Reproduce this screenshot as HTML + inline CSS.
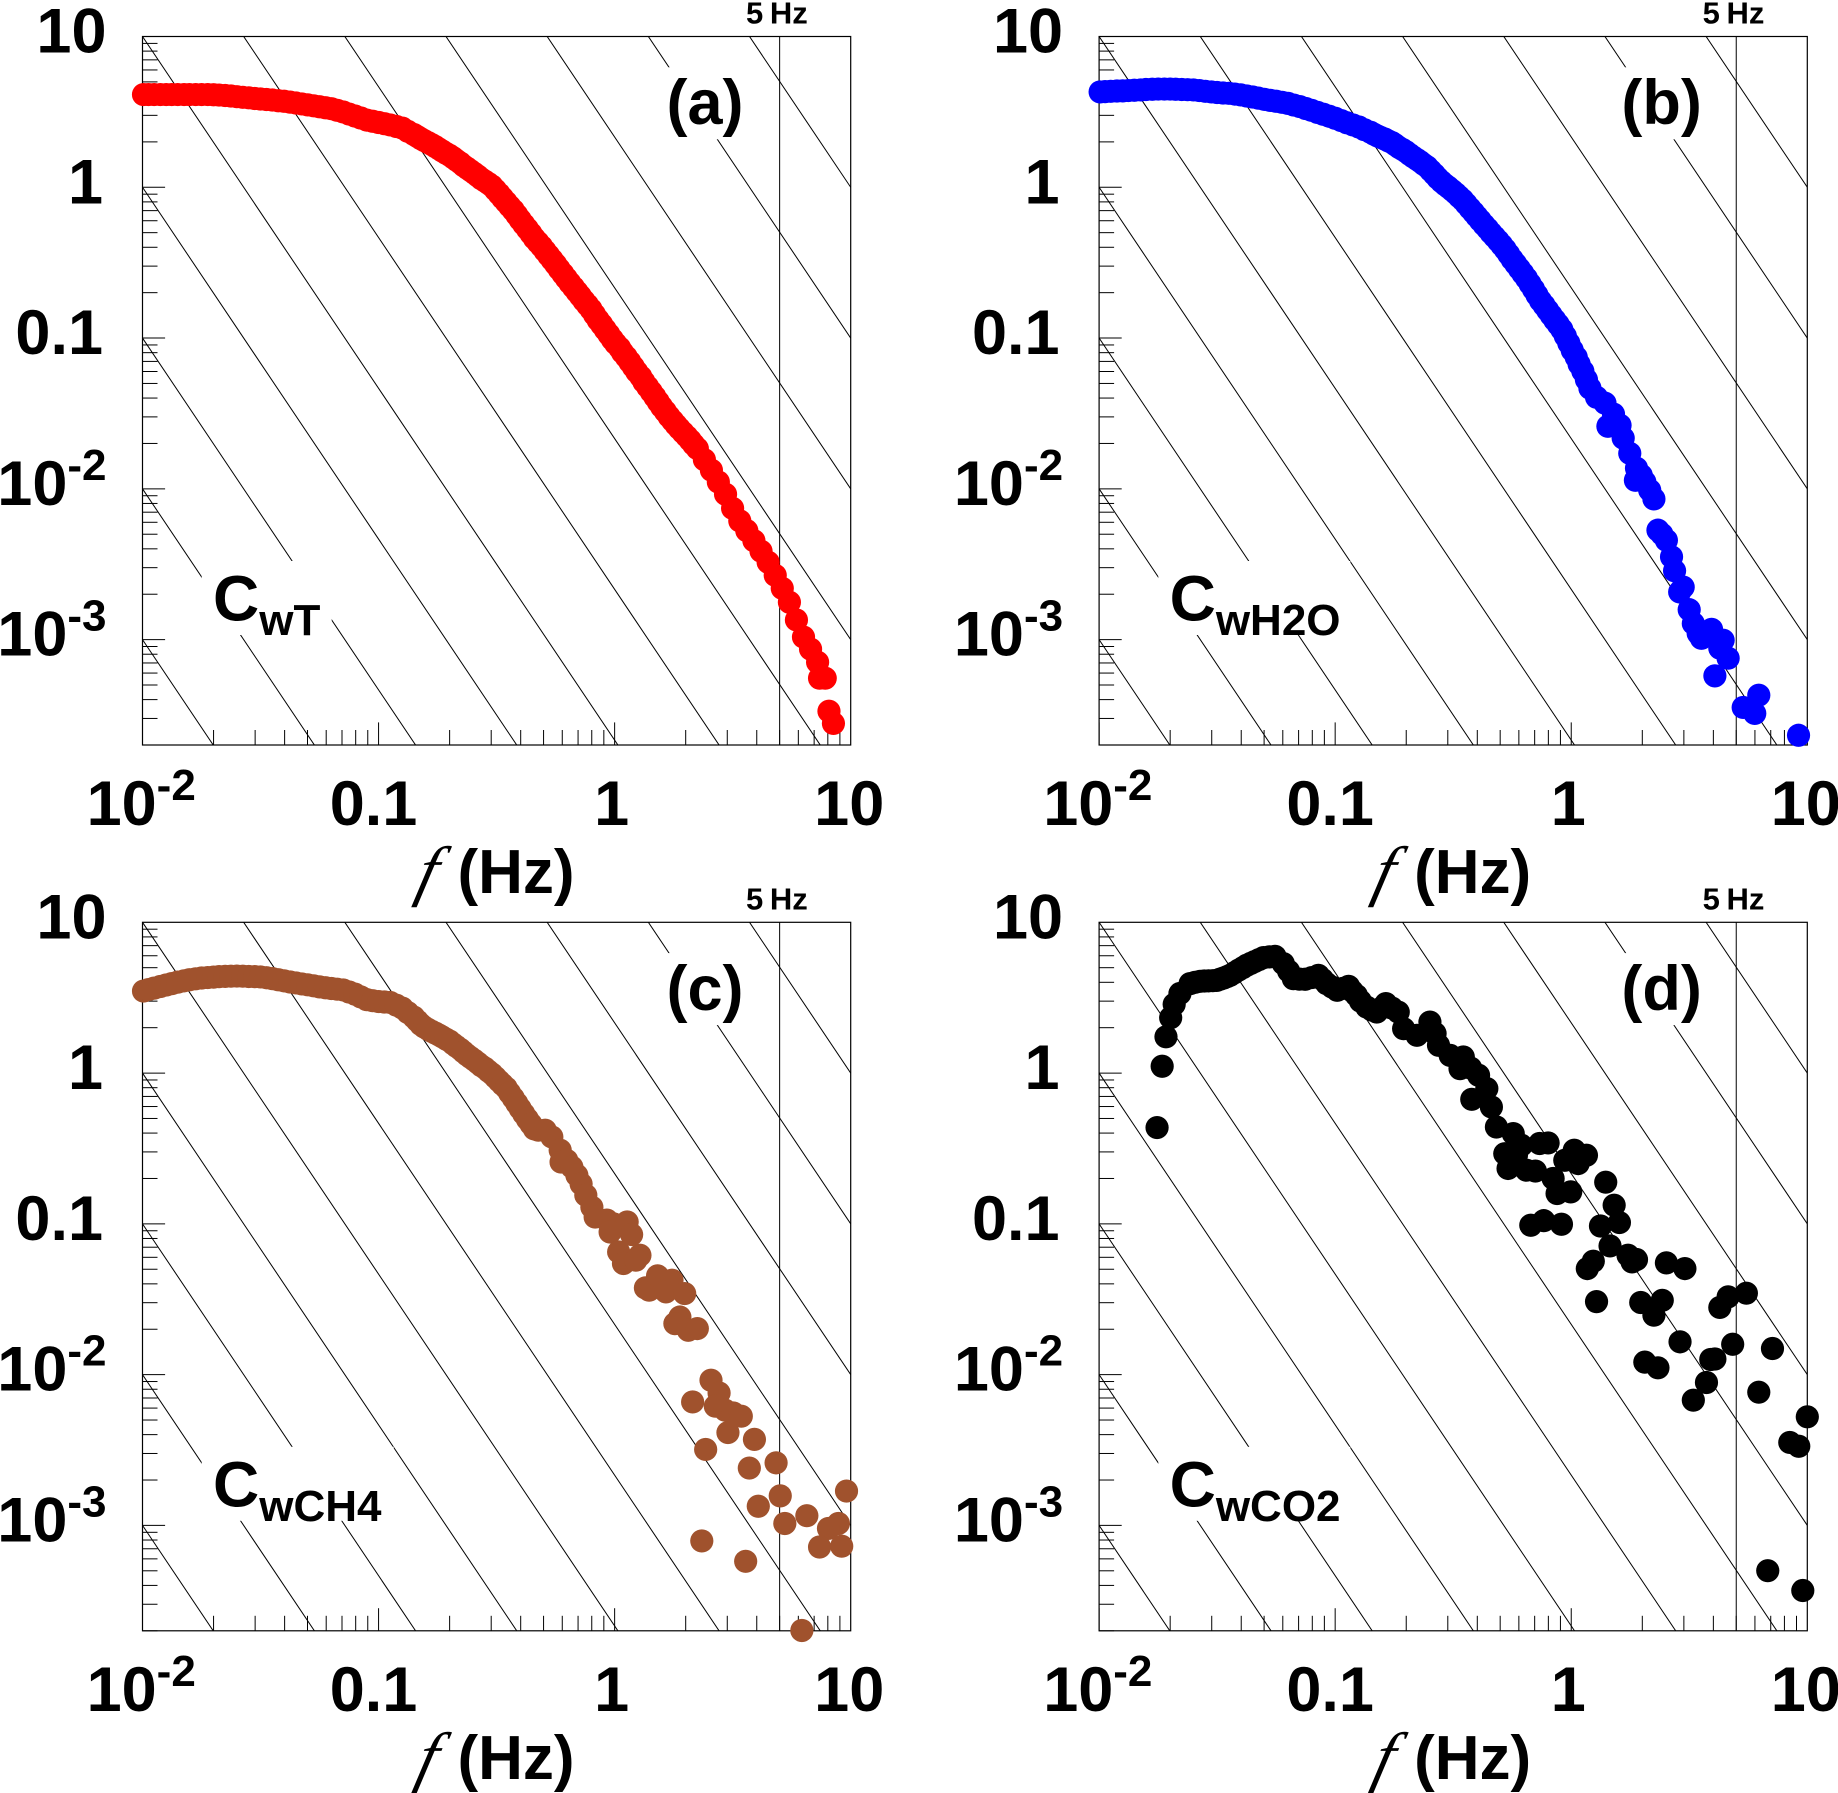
<!DOCTYPE html>
<html lang="en">
<head>
<meta charset="utf-8">
<title>Cospectra of w with T, H2O, CH4 and CO2</title>
<style>
html,body{margin:0;padding:0;background:#fff;width:1838px;height:1793px;overflow:hidden;}
svg{display:block;overflow:hidden;}
text{font-family:"Liberation Sans",Arial,sans-serif;font-weight:bold;fill:#000;}
</style>
</head>
<body>
<svg id="chart" xmlns="http://www.w3.org/2000/svg" width="1838" height="1793" viewBox="0 0 1838 1793"></svg>
<script>
const panelAFreq = [0.0101,0.0106,0.0112,0.0119,0.0126,0.0133,0.0141,0.0150,0.0158,0.0168,0.0178,0.0189,0.0200,0.0211,0.0224,0.0237,0.0251,0.0266,0.0282,0.0299,0.0316,0.0335,0.0355,0.0376,0.0398,0.0422,0.0447,0.0473,0.0501,0.0531,0.0562,0.0596,0.0631,0.0668,0.0708,0.0750,0.0794,0.0841,0.0891,0.0944,0.100,0.106,0.112,0.119,0.126,0.133,0.141,0.146,0.151,0.156,0.162,0.168,0.174,0.180,0.186,0.193,0.200,0.207,0.214,0.222,0.229,0.237,0.245,0.254,0.263,0.272,0.282,0.292,0.302,0.313,0.324,0.335,0.347,0.359,0.372,0.385,0.398,0.412,0.427,0.442,0.457,0.473,0.490,0.507,0.525,0.543,0.562,0.582,0.603,0.624,0.646,0.669,0.692,0.716,0.741,0.767,0.794,0.822,0.851,0.881,0.912,0.944,0.977,1.01,1.05,1.08,1.12,1.16,1.20,1.24,1.29,1.33,1.38,1.43,1.48,1.53,1.58,1.64,1.70,1.76,1.82,1.88,1.95,2.02,2.09,2.16,2.24,2.40,2.57,2.75,2.95,3.16,3.39,3.63,3.89,4.17,4.47,4.79,5.13,5.50,5.89,6.31,6.76,7.24,7.38,7.80,8.09,8.45];
const panelACos = [4.12,4.12,4.12,4.12,4.12,4.12,4.12,4.12,4.12,4.12,4.12,4.12,4.11,4.09,4.06,4.03,3.99,3.95,3.92,3.88,3.85,3.82,3.79,3.75,3.72,3.67,3.62,3.57,3.52,3.47,3.42,3.37,3.32,3.24,3.16,3.06,2.97,2.88,2.79,2.74,2.69,2.64,2.59,2.53,2.47,2.35,2.24,2.17,2.10,2.04,1.98,1.92,1.86,1.80,1.74,1.68,1.63,1.57,1.51,1.45,1.39,1.34,1.29,1.24,1.19,1.14,1.10,1.06,1.02,0.960,0.904,0.849,0.798,0.749,0.704,0.655,0.610,0.568,0.529,0.493,0.459,0.432,0.406,0.379,0.354,0.331,0.309,0.287,0.267,0.249,0.232,0.217,0.203,0.190,0.177,0.166,0.155,0.143,0.132,0.123,0.114,0.106,0.0982,0.0919,0.0860,0.0803,0.0749,0.0695,0.0645,0.0598,0.0554,0.0513,0.0475,0.0440,0.0408,0.0378,0.0351,0.0326,0.0302,0.0283,0.0266,0.0251,0.0236,0.0223,0.0210,0.0197,0.0185,0.0156,0.0133,0.0111,0.00921,0.00743,0.00613,0.00528,0.00453,0.00386,0.00326,0.00267,0.00219,0.00177,0.00135,0.00104,0.000865,0.000708,0.000555,0.000555,0.000335,0.000278];

const panelBFreq = [0.0101,0.0106,0.0112,0.0119,0.0126,0.0133,0.0141,0.0150,0.0158,0.0168,0.0178,0.0189,0.0200,0.0211,0.0224,0.0237,0.0251,0.0266,0.0282,0.0299,0.0316,0.0335,0.0355,0.0376,0.0398,0.0422,0.0447,0.0473,0.0501,0.0531,0.0562,0.0596,0.0631,0.0668,0.0708,0.0750,0.0794,0.0841,0.0891,0.0944,0.100,0.106,0.112,0.119,0.126,0.133,0.141,0.146,0.151,0.156,0.162,0.168,0.174,0.180,0.186,0.193,0.200,0.207,0.214,0.222,0.229,0.237,0.245,0.254,0.263,0.272,0.282,0.292,0.302,0.313,0.324,0.335,0.347,0.359,0.372,0.385,0.398,0.412,0.427,0.442,0.457,0.473,0.490,0.507,0.525,0.543,0.562,0.582,0.603,0.624,0.646,0.669,0.692,0.716,0.741,0.767,0.794,0.822,0.851,0.881,0.912,0.944,0.977,1.01,1.05,1.08,1.12,1.16,1.20,1.28,1.39,1.43,1.51,1.61,1.66,1.77,1.89,1.98,1.87,2.05,2.15,2.24,2.33,2.42,2.53,2.66,2.74,2.98,2.88,3.16,3.29,3.45,3.56,3.71,3.93,4.40,4.26,4.62,4.06,6.23,5.35,5.99,9.18];
const panelBCos = [4.29,4.31,4.33,4.35,4.36,4.38,4.40,4.42,4.45,4.47,4.48,4.48,4.48,4.47,4.45,4.44,4.42,4.38,4.33,4.29,4.25,4.22,4.20,4.15,4.10,4.03,3.97,3.90,3.83,3.77,3.72,3.66,3.60,3.51,3.43,3.33,3.24,3.14,3.05,2.96,2.87,2.77,2.68,2.59,2.51,2.41,2.32,2.25,2.19,2.14,2.09,2.03,1.98,1.91,1.84,1.78,1.72,1.65,1.59,1.53,1.48,1.42,1.37,1.29,1.22,1.15,1.09,1.04,1.00,0.955,0.912,0.867,0.824,0.775,0.726,0.683,0.642,0.602,0.564,0.531,0.499,0.470,0.442,0.415,0.388,0.360,0.333,0.310,0.288,0.268,0.249,0.229,0.211,0.193,0.177,0.165,0.153,0.142,0.132,0.123,0.114,0.103,0.0924,0.0830,0.0746,0.0671,0.0603,0.0530,0.0465,0.0405,0.0370,0.0260,0.0313,0.0264,0.0217,0.0172,0.0137,0.0123,0.0114,0.0111,0.00979,0.00857,0.00532,0.00500,0.00456,0.00354,0.00286,0.00223,0.00207,0.00158,0.00128,0.00110,0.00102,0.00109,0.00117,0.000991,0.000877,0.000753,0.000575,0.000428,0.000355,0.000324,0.000232];

const panelCFreq = [0.0101,0.0106,0.0112,0.0119,0.0126,0.0133,0.0141,0.0150,0.0158,0.0168,0.0178,0.0189,0.0200,0.0211,0.0224,0.0237,0.0251,0.0266,0.0282,0.0299,0.0316,0.0335,0.0355,0.0376,0.0398,0.0422,0.0447,0.0473,0.0501,0.0531,0.0562,0.0596,0.0631,0.0668,0.0708,0.0750,0.0794,0.0841,0.0891,0.0944,0.100,0.106,0.112,0.119,0.126,0.133,0.141,0.146,0.151,0.156,0.162,0.168,0.174,0.180,0.186,0.193,0.200,0.207,0.214,0.222,0.229,0.237,0.245,0.254,0.263,0.272,0.282,0.292,0.302,0.313,0.324,0.335,0.347,0.359,0.372,0.385,0.398,0.412,0.427,0.442,0.457,0.475,0.508,0.542,0.588,0.593,0.627,0.659,0.692,0.721,0.755,0.801,0.827,0.927,0.989,1.13,0.957,1.18,1.04,1.28,1.09,1.23,1.35,1.40,1.52,1.75,1.65,1.98,1.89,1.80,2.05,2.24,2.56,2.77,2.14,2.67,2.94,3.18,3.44,3.02,3.91,2.43,4.83,3.72,9.60,5.03,4.06,6.52,5.26,8.87,8.05,2.34,7.38,9.16,3.59,6.21];
const panelCCos = [3.50,3.58,3.66,3.75,3.84,3.92,4.01,4.09,4.16,4.22,4.27,4.30,4.33,4.36,4.38,4.39,4.40,4.39,4.37,4.36,4.34,4.29,4.23,4.16,4.09,4.02,3.96,3.90,3.85,3.79,3.73,3.68,3.64,3.60,3.56,3.45,3.34,3.20,3.07,3.02,2.98,2.96,2.94,2.82,2.70,2.52,2.35,2.22,2.10,2.02,1.95,1.89,1.84,1.79,1.74,1.68,1.63,1.56,1.50,1.44,1.38,1.32,1.27,1.22,1.17,1.12,1.08,1.03,0.989,0.936,0.885,0.840,0.798,0.738,0.683,0.630,0.582,0.537,0.495,0.459,0.426,0.418,0.418,0.377,0.308,0.257,0.264,0.238,0.210,0.184,0.155,0.129,0.111,0.106,0.100,0.103,0.0883,0.0849,0.0651,0.0619,0.0546,0.0574,0.0376,0.0363,0.0452,0.0423,0.0354,0.0345,0.0241,0.0218,0.0197,0.0202,0.00918,0.00756,0.00659,0.00618,0.00581,0.00557,0.00530,0.00413,0.00372,0.00319,0.00260,0.00240,0.00169,0.00157,0.00134,0.00116,0.00103,0.00103,0.000955,0.000789,0.000719,0.000728,0.000578,0.000201];

const panelDFreq = [0.0176,0.0185,0.0192,0.0201,0.0208,0.0220,0.0243,0.0268,0.0291,0.0315,0.0337,0.0359,0.0390,0.0422,0.0456,0.0497,0.0556,0.0603,0.0635,0.0665,0.0746,0.0849,0.0920,0.102,0.114,0.123,0.136,0.150,0.164,0.185,0.195,0.222,0.252,0.265,0.274,0.307,0.349,0.338,0.375,0.405,0.439,0.379,0.459,0.482,0.568,0.523,0.586,0.615,0.735,0.798,0.540,0.646,0.705,0.838,0.871,0.995,1.03,0.939,1.16,1.07,0.674,0.765,0.909,1.40,1.52,1.60,1.33,1.46,1.74,1.89,1.81,1.24,1.17,2.53,3.03,1.28,1.97,2.43,2.24,2.89,2.05,2.33,3.29,3.74,3.90,4.06,4.83,4.26,4.62,5.52,7.12,6.23,10.0,8.43,9.20,6.80,9.57,0.0255,0.0279,0.0303,0.0326,0.0348,0.0374,0.0406,0.0439,0.0476,0.0526,0.0705,0.0796,0.0884,0.097,0.108,0.118,0.128,0.143,0.157,0.174];
const panelDCos = [0.435,1.11,1.74,2.33,2.86,3.37,3.92,4.06,4.09,4.12,4.27,4.45,4.82,5.19,5.49,5.83,5.95,5.32,4.75,4.23,4.19,4.45,3.92,3.54,3.76,3.28,2.74,2.54,2.89,2.54,1.97,1.78,2.18,1.83,1.53,1.31,1.28,1.07,1.08,0.967,0.789,0.670,0.596,0.439,0.397,0.292,0.285,0.332,0.341,0.344,0.233,0.227,0.224,0.200,0.159,0.163,0.308,0.264,0.285,0.251,0.0979,0.105,0.0994,0.189,0.133,0.102,0.0968,0.0714,0.0619,0.0580,0.0559,0.0565,0.0505,0.0551,0.0505,0.0305,0.0301,0.0311,0.0248,0.0165,0.0121,0.0111,0.00677,0.00887,0.0126,0.0127,0.0159,0.0279,0.0328,0.0347,0.0149,0.00765,0.00525,0.00355,0.00335,0.000501,0.000370,4.00,4.08,4.10,4.20,4.36,4.63,5.00,5.34,5.66,5.90,4.20,4.30,4.18,3.72,3.65,3.50,3.00,2.62,2.70,2.70];

const xTickValues = [0.01,0.1,1,10];
const xTickBase = ['10','0.1','1','10'];
const xTickSup = ['-2','','',''];
const yTickValues = [10,1,0.1,0.01,0.001];
const yTickBase = ['10','1','0.1','10','10'];
const yTickSup = ['','','','-2','-3'];
const guideExponents = [7,6,5,4,3,2,1,0,-1,-2,-3];
const markerFrequency = 5;

const NS = 'http://www.w3.org/2000/svg';
const svg = document.getElementById('chart');

/* axis geometry of one panel, in panel-local pixels */
const plotLeft = 142.5, plotRight = 850.7, plotTop = 36.5, plotBottom = 745;
const fMin = 0.01, fMax = 10, cMax = 10, cMin = 2e-4;
function xScale(f){ return plotLeft + (Math.log10(f) - Math.log10(fMin)) / (Math.log10(fMax) - Math.log10(fMin)) * (plotRight - plotLeft); }
function yScale(c){ return plotTop + (Math.log10(cMax) - Math.log10(c)) / (Math.log10(cMax) - Math.log10(cMin)) * (plotBottom - plotTop); }

function mk(tag, parent){
  const el = document.createElementNS(NS, tag);
  parent.appendChild(el);
  return el;
}
function setAll(el, attrs){
  for (const k in attrs) el.setAttribute(k, attrs[k]);
}
function drawLine(parent, x1, y1, x2, y2, w){
  const l = mk('line', parent);
  setAll(l, {x1:x1, y1:y1, x2:x2, y2:y2, stroke:'#000', 'stroke-width':w});
  return l;
}
function label(el, base, sup, baseSize, supSize){
  el.setAttribute('font-size', baseSize);
  const t1 = mk('tspan', el);
  t1.textContent = base;
  if (sup){
    const t2 = mk('tspan', el);
    t2.setAttribute('font-size', supSize);
    t2.setAttribute('dy', -25);
    t2.textContent = sup;
  }
}
function xLabelShift(base, sup){
  if (sup) return -1.3;
  if (base === '1') return -3;
  if (base === '0.1') return -5;
  return -1.5;
}
function yLabelRight(base, sup){
  if (!sup && base.charAt(base.length - 1) === '1') return 103;
  return 106.5;
}

const panels = [
  {id:'a', dx:0, dy:0, color:'#ff0000', freq:panelAFreq, cos:panelACos, sub:'wT', boxW:130},
  {id:'b', dx:956.6, dy:0, color:'#0000ff', freq:panelBFreq, cos:panelBCos, sub:'wH2O', boxW:192},
  {id:'c', dx:0, dy:885.8, color:'#a0522d', freq:panelCFreq, cos:panelCCos, sub:'wCH4', boxW:192},
  {id:'d', dx:956.6, dy:885.8, color:'#000000', freq:panelDFreq, cos:panelDCos, sub:'wCO2', boxW:192}
];

panels.forEach(function(p){
  const g = mk('g', svg);
  g.setAttribute('transform', 'translate(' + p.dx + ',' + p.dy + ')');
  
  

  const clip = mk('clipPath', g);
  clip.setAttribute('id', 'clip-' + p.id);
  const clipRect = mk('rect', clip);
  setAll(clipRect, {x:plotLeft, y:plotTop, width:plotRight - plotLeft, height:plotBottom - plotTop});

  /* -7/3 reference lines */
  const guides = mk('g', g);
  guides.setAttribute('clip-path', 'url(#clip-' + p.id + ')');
  
  
  guideExponents.forEach(function(n){
    const l = drawLine(guides, xScale(fMin), yScale(Math.pow(10, n)), xScale(fMax), yScale(Math.pow(10, n - 7)), 1);
    
    
  });

  /* white backing boxes that interrupt the guide lines behind labels */
  const letterBox = mk('rect', g);
  setAll(letterBox, {x:660, y:67.3, width:92, height:72, fill:'#fff'});
  
  
  const nameBox = mk('rect', g);
  setAll(nameBox, {x:201.7, y:561, width:p.boxW, height:74, fill:'#fff'});
  
  

  /* frame */
  const frame = mk('rect', g);
  setAll(frame, {x:plotLeft, y:plotTop, width:plotRight - plotLeft, height:plotBottom - plotTop, fill:'none', stroke:'#000', 'stroke-width':1.2});
  
  

  /* x ticks */
  const xAxis = mk('g', g);
  
  
  for (let d = -2; d < 1; d++){
    for (let m = 1; m <= 9; m++){
      const fv = m * Math.pow(10, d);
      const x = xScale(fv);
      const t = drawLine(xAxis, x, plotBottom, x, plotBottom - (m === 1 ? 22.6 : 15), 1);
      
      
    }
  }
  xTickValues.forEach(function(v, i){
    const t = mk('text', xAxis);
    setAll(t, {x:xScale(v) + xLabelShift(xTickBase[i], xTickSup[i]), y:825, 'text-anchor':'middle'});
    
    
    label(t, xTickBase[i], xTickSup[i], 63, 44);
  });

  /* y ticks */
  const yAxis = mk('g', g);
  
  
  for (let d = -4; d < 1; d++){
    for (let m = 1; m <= 9; m++){
      const cv = m * Math.pow(10, d);
      if (cv < cMin * 0.99) continue;
      const y = yScale(cv);
      const t = drawLine(yAxis, plotLeft, y, plotLeft + (m === 1 ? 22.6 : 15), y, 1);
      
      
    }
  }
  yTickValues.forEach(function(v, i){
    const t = mk('text', yAxis);
    setAll(t, {x:yLabelRight(yTickBase[i], yTickSup[i]), y:yScale(v) + 16, 'text-anchor':'end'});
    
    
    label(t, yTickBase[i], yTickSup[i], 63, 44);
  });

  /* 5 Hz marker */
  const fx = xScale(markerFrequency);
  const fl = drawLine(g, fx, plotTop, fx, plotBottom, 1);
  
  
  const ft = mk('text', g);
  setAll(ft, {x:746, y:23.5, 'font-size':31, 'word-spacing':'-2'});
  
  
  ft.textContent = markerFrequency + ' Hz';

  /* data */
  const series = mk('g', g);
  series.setAttribute('fill', p.color);
  
  
  p.freq.forEach(function(f, i){
    const c = mk('circle', series);
    setAll(c, {cx:xScale(f), cy:yScale(p.cos[i]), r:11.6});
    
    
  });

  /* panel letter */
  const pl = mk('text', g);
  setAll(pl, {x:705, y:124, 'font-size':63, 'text-anchor':'middle'});
  
  
  pl.textContent = '(' + p.id + ')';

  /* series name */
  const sn = mk('text', g);
  setAll(sn, {x:213, y:620.5, 'font-size':64});
  
  
  const snC = mk('tspan', sn);
  snC.textContent = 'C';
  const snS = mk('tspan', sn);
  snS.setAttribute('font-size', 44);
  snS.setAttribute('dy', 14.5);
  snS.textContent = p.sub;

  /* x axis title */
  const xf = mk('text', g);
  setAll(xf, {transform:'translate(414,893.2) skewX(-14) scale(1.05,1.05)', 'font-size':64, 'font-style':'italic', style:'font-family:"Liberation Serif",serif;font-weight:normal'});
  
  
  xf.textContent = 'f';
  const xt = mk('text', g);
  setAll(xt, {x:457.5, y:893.2, 'font-size':62});
  
  
  xt.textContent = '(Hz)';
});
</script>
</body>
</html>
